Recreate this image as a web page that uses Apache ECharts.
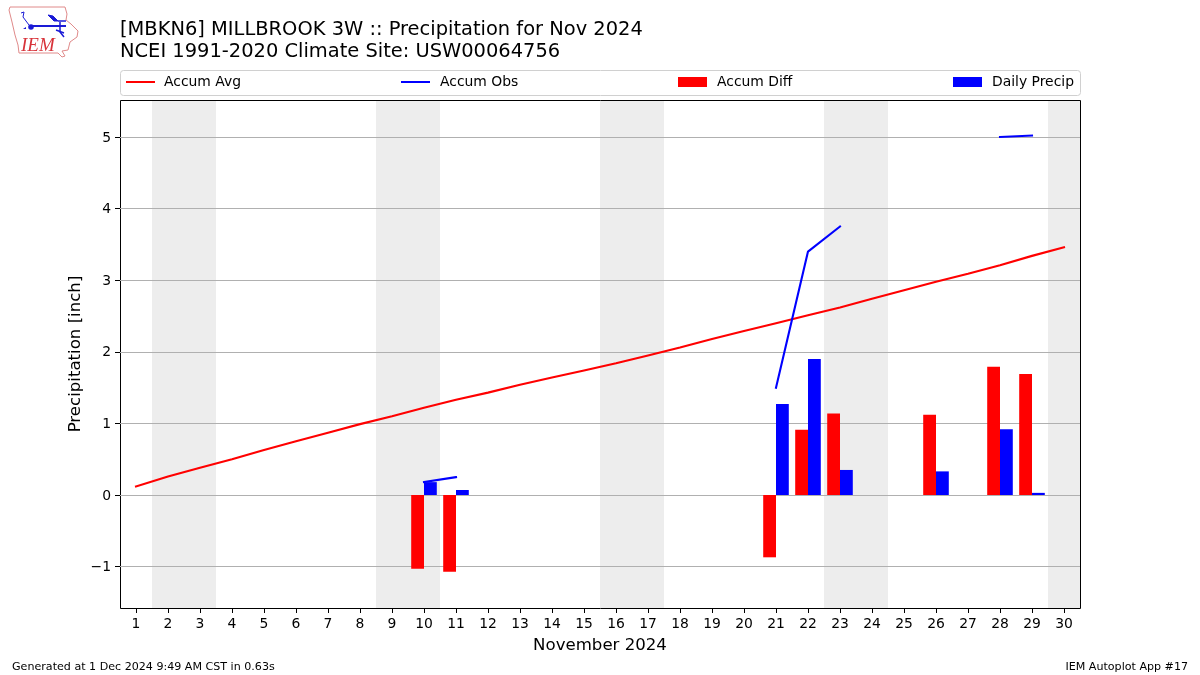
<!DOCTYPE html>
<html>
<head>
<meta charset="utf-8">
<style>html,body{margin:0;padding:0;background:#fff}#c{width:1200px;height:675px}</style>
<script src="https://cdn.jsdelivr.net/npm/echarts@6/dist/echarts.min.js"></script>
</head>
<body>
<div id="c"></div>
<script>
const days = ['1','2','3','4','5','6','7','8','9','10','11','12','13','14','15','16','17','18','19','20','21','22','23','24','25','26','27','28','29','30'];
const weekendDays = ['2','3','9','10','16','17','23','24','30'];
const accumAvg = [0.12,0.26,0.38,0.50,0.63,0.75,0.87,0.99,1.10,1.22,1.33,1.43,1.54,1.64,1.74,1.84,1.95,2.06,2.18,2.29,2.40,2.51,2.62,2.74,2.86,2.98,3.09,3.21,3.34,3.46];
const accumObs = [null,null,null,null,null,null,null,null,null,0.18,0.25,null,null,null,null,null,null,null,null,null,1.50,3.40,3.75,null,null,null,null,5.00,5.02,null];
const accumDiff = [null,null,null,null,null,null,null,null,null,-1.03,-1.07,null,null,null,null,null,null,null,null,null,-0.87,0.91,1.14,null,null,1.12,null,1.79,1.69,null];
const dailyPrecip = [null,null,null,null,null,null,null,null,null,0.18,0.07,null,null,null,null,null,null,null,null,null,1.27,1.90,0.35,null,null,0.33,null,0.92,0.03,null];
const yTicks = [-1,0,1,2,3,4,5];
const yMin = -1.578, yMax = 5.517;

const FONT = 'DejaVu Sans';
const chart = echarts.init(document.getElementById('c'), null, {renderer:'canvas'});
const legendItem = (name, left, h, top, pad) => ({
  show:true, data:[{name,icon:'rect'}], left, top, itemWidth:29, itemHeight:h, padding:0,
  selectedMode:false,
  textStyle:{fontFamily:FONT,fontSize:13.9,color:'#000',padding:[2,0,0,pad]}
});
chart.setOption({
  animation:false,
  backgroundColor:'#fff',
  title:[
    {text:'[MBKN6] MILLBROOK 3W :: Precipitation for Nov 2024\nNCEI 1991-2020 Climate Site: USW00064756',left:120,top:19,padding:0,
     textStyle:{fontFamily:FONT,fontSize:19.46,fontWeight:'normal',color:'#000',lineHeight:22}},
    {text:'Generated at 1 Dec 2024 9:49 AM CST in 0.63s',left:12,top:662,padding:0,
     textStyle:{fontFamily:FONT,fontSize:11.1,fontWeight:'normal',color:'#000'}},
    {text:'IEM Autoplot App #17',right:12,top:662,padding:0,
     textStyle:{fontFamily:FONT,fontSize:11.1,fontWeight:'normal',color:'#000'}}
  ],
  legend:[
    legendItem('Accum Avg',126,2,75,4),
    legendItem('Accum Obs',401,2,75,5),
    legendItem('Accum Diff',678,10,75,5),
    legendItem('Daily Precip',953,10,75,5)
  ],
  grid:{left:120,right:120,top:100,bottom:67,show:false},
  xAxis:{
    type:'category',data:days,position:'bottom',
    axisLine:{show:false,onZero:false},
    axisTick:{show:true,alignWithLabel:true,length:5,lineStyle:{color:'#000',width:1}},
    axisLabel:{interval:0,margin:9,fontFamily:FONT,fontSize:13.9,color:'#000'},
    splitLine:{show:false},
    name:'November 2024',nameLocation:'middle',nameGap:29,
    nameTextStyle:{fontFamily:FONT,fontSize:16.6,color:'#000'}
  },
  yAxis:{
    type:'value',min:yMin,max:yMax,
    axisLine:{show:false},
    axisTick:{show:true,length:5,customValues:yTicks,lineStyle:{color:'#000',width:1}},
    axisLabel:{margin:9,customValues:yTicks,fontFamily:FONT,fontSize:13.9,color:'#000',
      formatter:v=>'{a|'+String(v).replace('-','\u2212')+'}',
      rich:{a:{fontFamily:FONT,fontSize:13.9,color:'#000',padding:[2,0,0,0]}}},
    splitLine:{show:true,lineStyle:{color:'#b0b0b0',width:1}},
    name:'Precipitation [inch]',nameLocation:'middle',nameGap:36,nameRotate:90,nameMoveOverlap:false,
    nameTextStyle:{fontFamily:FONT,fontSize:16.6,color:'#000'}
  },
  series:[
    {type:'custom',name:'weekend',silent:true,z:-1,data:weekendDays.map(d=>[d]),
     encode:{x:0},clip:true,
     renderItem:(params,api)=>{
       const w=api.size([1,0])[0];
       const x=api.coord([api.value(0),0])[0];
       const cs=params.coordSys;
       return {type:'rect',shape:{x:x-w/2,y:cs.y,width:w,height:cs.height},style:{fill:'#ededed'}};
     }},
    {type:'line',name:'Accum Avg',data:accumAvg,symbol:'none',connectNulls:false,z:4,
     lineStyle:{color:'#ff0000',width:2.1,cap:'square'},itemStyle:{color:'#ff0000'}},
    {type:'line',name:'Accum Obs',data:accumObs,symbol:'none',connectNulls:false,z:4,
     lineStyle:{color:'#0000ff',width:2.1,cap:'square'},itemStyle:{color:'#0000ff'}},
    {type:'bar',name:'Accum Diff',data:accumDiff,barWidth:12.8,barGap:0,z:3,itemStyle:{color:'#ff0000'}},
    {type:'bar',name:'Daily Precip',data:dailyPrecip,barWidth:12.8,barGap:0,z:3,itemStyle:{color:'#0000ff'}}
  ],
  graphic:[
    {type:'rect',z:-5,silent:true,shape:{x:120.5,y:70.5,width:960,height:25,r:3},style:{fill:'#fff',stroke:'#d0d0d0',lineWidth:1}},
    {type:'rect',silent:true,shape:{x:120.5,y:100.5,width:960,height:508},style:{fill:'none',stroke:'#000',lineWidth:1}},
    {type:'polygon',silent:true,shape:{points:[[10,7],[65,7],[67,14],[66,20],[71,24],[78,31],[77,37],[70,42],[68,50],[62,51],[65,56],[62,57],[58,53],[19,53],[18,45],[15,35],[12,22],[9,10]]},style:{fill:'#fff',stroke:'#e08a8a',lineWidth:1}},
    {type:'polyline',silent:true,shape:{points:[[30,26],[66,26]]},style:{stroke:'#1a1ad6',lineWidth:2,fill:'none'}},
    {type:'circle',silent:true,shape:{cx:31,cy:27,r:2.8},style:{fill:'#1a1ad6'}},
    {type:'polygon',silent:true,shape:{points:[[48,15],[53,16],[58,21],[66,21],[54,21]]},style:{fill:'#1a1ad6',stroke:'#1a1ad6',lineWidth:1}},
    {type:'polyline',silent:true,shape:{points:[[21,13],[24,12],[23,17],[29,25]]},style:{stroke:'#1a1ad6',lineWidth:1,fill:'none'}},
    {type:'polyline',silent:true,shape:{points:[[60,22],[60,32],[64,37]]},style:{stroke:'#1a1ad6',lineWidth:1.5,fill:'none'}},
    {type:'polyline',silent:true,shape:{points:[[56,30],[64,33]]},style:{stroke:'#1a1ad6',lineWidth:1.5,fill:'none'}},
    {type:'polygon',silent:true,shape:{points:[[23,29],[26,29],[26,27]]},style:{fill:'#1a1ad6'}},
    {type:'text',silent:true,x:21,y:36,style:{text:'IEM',fontFamily:'Liberation Serif',fontStyle:'italic',fontSize:19,fill:'#d8333a'}}
  ]
});
</script>
</body>
</html>
